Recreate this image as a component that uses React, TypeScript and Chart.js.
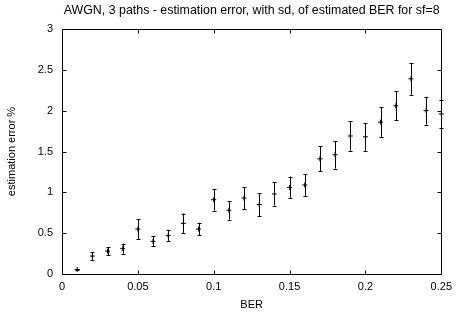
import React, { useEffect, useRef } from "react";
import { Chart, registerables } from "chart.js";

Chart.register(...registerables);

const titleText = "AWGN, 3 paths - estimation error, with sd, of estimated BER for sf=8";
const xTitle = "BER";
const yTitle = "estimation error %";

const berValues = [
  0.01, 0.02, 0.03, 0.04, 0.05, 0.06, 0.07, 0.08, 0.09, 0.1,
  0.11, 0.12, 0.13, 0.14, 0.15, 0.16, 0.17, 0.18, 0.19, 0.2,
  0.21, 0.22, 0.23, 0.24, 0.25,
];
const errorMeans = [
  0.055, 0.22, 0.28, 0.31, 0.55, 0.4, 0.47, 0.62, 0.55, 0.91,
  0.78, 0.93, 0.85, 0.98, 1.06, 1.09, 1.41, 1.46, 1.69, 1.68,
  1.86, 2.06, 2.39, 2.0, 1.96,
];
const errorSd = [
  0.01, 0.045, 0.047, 0.06, 0.12, 0.063, 0.072, 0.12, 0.078, 0.133,
  0.115, 0.133, 0.14, 0.143, 0.133, 0.133, 0.154, 0.17, 0.18, 0.17,
  0.18, 0.18, 0.195, 0.17, 0.17,
];

const xTicks = [0, 0.05, 0.1, 0.15, 0.2, 0.25];
const xTickLabels = ["0", "0.05", "0.1", "0.15", "0.2", "0.25"];
const yTicks = [0, 0.5, 1, 1.5, 2, 2.5, 3];
const yTickLabels = ["0", "0.5", "1", "1.5", "2", "2.5", "3"];

const FONT = "'Liberation Sans', Arial, sans-serif";

const titlePlugin = {
  id: "plotTitle",
  afterDraw(chart: any) {
    const { ctx, chartArea } = chart;
    ctx.save();
    ctx.fillStyle = "#000";
    ctx.font = `12.4px ${FONT}`;
    ctx.textAlign = "center";
    ctx.textBaseline = "middle";
    ctx.fillText(titleText, (chartArea.left + chartArea.right) / 2, 10.5);
    ctx.restore();
  },
};

const errorBarPlugin = {
  id: "errorBars",
  afterDatasetsDraw(chart: any) {
    const { ctx, scales } = chart;
    const xs = scales.x;
    const ys = scales.y;
    ctx.save();
    ctx.strokeStyle = "#000";
    ctx.lineWidth = 1;
    berValues.forEach((bx, i) => {
      const px = Math.round(xs.getPixelForValue(bx)) + 0.5;
      const yTop = ys.getPixelForValue(errorMeans[i] + errorSd[i]);
      const yBot = ys.getPixelForValue(errorMeans[i] - errorSd[i]);
      ctx.beginPath();
      ctx.moveTo(px, yTop);
      ctx.lineTo(px, yBot);
      ctx.moveTo(px - 2, Math.round(yTop) + 0.5);
      ctx.lineTo(px + 2, Math.round(yTop) + 0.5);
      ctx.moveTo(px - 2, Math.round(yBot) + 0.5);
      ctx.lineTo(px + 2, Math.round(yBot) + 0.5);
      ctx.stroke();
    });
    ctx.restore();
  },
};

const framePlugin = {
  id: "frame",
  afterDraw(chart: any) {
    const { ctx, chartArea, scales } = chart;
    const { left, right, top, bottom } = chartArea;
    const L = Math.round(left) + 0.5;
    const R = Math.round(right) + 0.5;
    const T = Math.round(top) + 0.5;
    const B = Math.round(bottom) + 0.5;
    ctx.save();
    ctx.strokeStyle = "#000";
    ctx.lineWidth = 1;
    ctx.strokeRect(L, T, R - L, B - T);
    const tl = 4;
    ctx.beginPath();
    xTicks.forEach((v) => {
      const px = Math.round(scales.x.getPixelForValue(v)) + 0.5;
      ctx.moveTo(px, B);
      ctx.lineTo(px, B - tl);
      ctx.moveTo(px, T);
      ctx.lineTo(px, T + tl);
    });
    yTicks.forEach((v) => {
      const py = Math.round(scales.y.getPixelForValue(v)) + 0.5;
      ctx.moveTo(L, py);
      ctx.lineTo(L + tl, py);
      ctx.moveTo(R, py);
      ctx.lineTo(R - tl, py);
    });
    ctx.stroke();
    ctx.restore();
  },
};

export default function App() {
  const ref = useRef<HTMLCanvasElement | null>(null);

  useEffect(() => {
    if (!ref.current) return;
    const chart = new Chart(ref.current, {
      type: "scatter",
      data: {
        datasets: [
          {
            data: berValues.map((x, i) => ({ x, y: errorMeans[i] })),
            pointStyle: "cross",
            pointRadius: 2.5,
            borderColor: "#000",
            backgroundColor: "#000",
            borderWidth: 1,
            clip: false as any,
          },
        ],
      },
      options: {
        animation: false,
        responsive: false,
        layout: { padding: { left: 0, right: 14, top: 29, bottom: 0 } },
        plugins: {
          legend: { display: false },
          tooltip: { enabled: false },
          title: { display: false },
        },
        scales: {
          x: {
            type: "linear",
            min: 0,
            max: 0.25,
            grid: { display: false, drawTicks: false },
            border: { display: false },
            afterBuildTicks: (s: any) => {
              s.ticks = xTicks.map((v) => ({ value: v }));
            },
            afterFit: (s: any) => {
              s.height = 44;
            },
            ticks: {
              color: "#000",
              padding: 6,
              maxRotation: 0,
              autoSkip: false,
              font: { family: FONT, size: 11 },
              callback: (_v: any, i: number) => xTickLabels[i],
            },
            title: {
              display: true,
              text: xTitle,
              color: "#000",
              font: { family: FONT, size: 11 },
              padding: { top: 0, bottom: 6 },
            },
          },
          y: {
            type: "linear",
            min: 0,
            max: 3,
            grid: { display: false, drawTicks: false },
            border: { display: false },
            afterBuildTicks: (s: any) => {
              s.ticks = yTicks.map((v) => ({ value: v }));
            },
            afterFit: (s: any) => {
              s.width = 62;
            },
            ticks: {
              color: "#000",
              padding: 9,
              autoSkip: false,
              font: { family: FONT, size: 11 },
              callback: (_v: any, i: number) => yTickLabels[i],
            },
            title: {
              display: true,
              text: yTitle,
              color: "#000",
              font: { family: FONT, size: 11 },
              padding: { top: 5, bottom: 0 },
            },
          },
        },
      },
      plugins: [errorBarPlugin, framePlugin, titlePlugin],
    });
    return () => chart.destroy();
  }, []);

  return (
    <div style={{ position: "fixed", left: 0, top: 0, width: 458, height: 318, background: "#fff" }}>
      <canvas ref={ref} width={458} height={318} />
    </div>
  );
}
